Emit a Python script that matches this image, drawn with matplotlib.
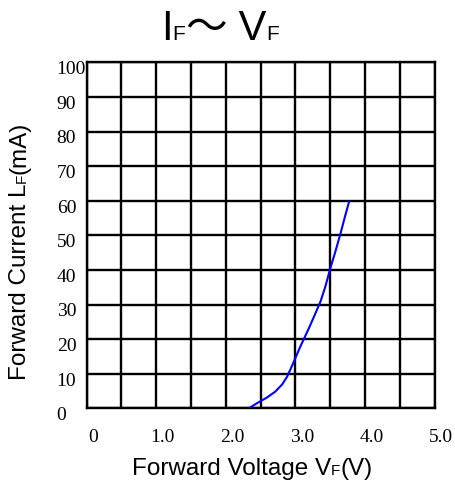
import matplotlib
matplotlib.use("Agg")
import matplotlib.pyplot as plt

# Data
voltage = [2.33, 2.45, 2.59, 2.71, 2.81, 2.88, 2.93, 3.00, 3.07, 3.14, 3.20,
           3.27, 3.36, 3.43, 3.50, 3.575, 3.65, 3.71, 3.776]
current = [0, 1.5, 3.1, 4.8, 6.9, 9.1, 11.3, 14.5, 17.8, 20.8, 23.4,
           26.6, 30.8, 35.1, 40.3, 45.3, 50.6, 55.2, 60]

x_tick_values = [0, 1, 2, 3, 4, 5]
x_tick_labels = ["0", "1.0", "2.0", "3.0", "4.0", "5.0"]
y_tick_values = [0, 10, 20, 30, 40, 50, 60, 70, 80, 90, 100]
y_tick_labels = ["0", "10", "20", "30", "40", "50", "60", "70", "80", "90", "100"]

W, H = 455, 484
fig = plt.figure(figsize=(W / 100, H / 100), dpi=100)
left, right, top, bottom = 86.7, 434.5, 62.3, 408.3
ax = fig.add_axes([left / W, 1 - bottom / H, (right - left) / W, (bottom - top) / H])

ax.set_xlim(0, 5)
ax.set_ylim(0, 100)
ax.set_xticks([i * 0.5 for i in range(11)])
ax.set_yticks(y_tick_values)
ax.tick_params(length=0, labelbottom=False, labelleft=False)
ax.grid(True, color="black", linewidth=1.7)
for s in ax.spines.values():
    s.set_linewidth(1.7)
    s.set_color("black")

ax.plot(voltage, current, color="#0000ff", linewidth=1.5, zorder=3,
        solid_capstyle="butt", solid_joinstyle="round")

serif = "Liberation Serif"
sans = "Liberation Sans"
for v, lab in zip(x_tick_values, x_tick_labels):
    ax.annotate(lab, xy=(v, 0), xycoords=("data", "axes fraction"),
                xytext=(6.5, -29), textcoords="offset pixels",
                ha="center", va="center", fontsize=14, family=serif)
for v, lab in zip(y_tick_values, y_tick_labels):
    ax.annotate(lab, xy=(0, v), xycoords=("axes fraction", "data"),
                xytext=(-30, -7.3), textcoords="offset pixels",
                ha="left", va="center", fontsize=14, family=serif)

fig.canvas.draw()
r = fig.canvas.get_renderer()


def chain_h(x0, y_base, parts):
    x = x0
    for txt, size, fam in parts:
        t = fig.text(x / W, 1 - y_base / H, txt, ha="left", va="baseline",
                     fontsize=size, family=fam)
        bb = t.get_window_extent(renderer=r)
        x += bb.width
    return x


def chain_v(xc, y0, parts):
    y = y0
    for txt, size, fam in parts:
        t = fig.text(xc / W, 1 - y / H, txt, ha="left", va="baseline",
                     rotation=90, rotation_mode="anchor", fontsize=size, family=fam)
        bb = t.get_window_extent(renderer=r)
        y -= bb.height
    return y


# X axis label
chain_h(132, 475, [("Forward Voltage V", 17.5, sans), ("F", 11, sans), ("(V)", 17.5, sans)])

# Title
chain_h(161, 40, [("I", 30, sans), ("F", 15, sans), ("～", 30, ["Noto Sans CJK SC"]),
                  (" V", 30, sans), ("F", 15, sans)])

# Y axis label (rotated)
chain_v(26, 380, [("Forward Current L", 17.5, sans), ("F", 11, sans), ("(mA)", 17.5, sans)])

fig.savefig("out.png", dpi=100)
